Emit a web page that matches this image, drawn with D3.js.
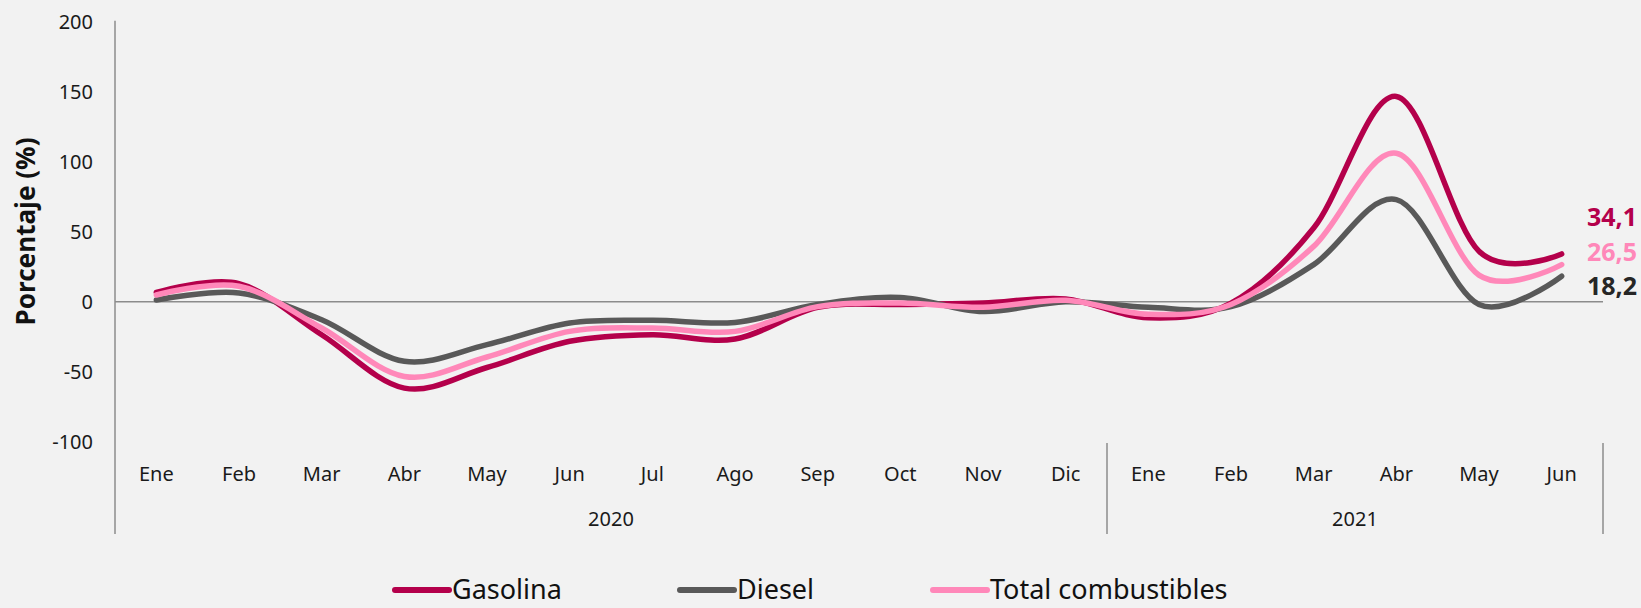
<!DOCTYPE html>
<html>
<head>
<meta charset="utf-8">
<script src="https://cdn.jsdelivr.net/npm/d3@7"></script>
<style>
html,body{margin:0;padding:0;background:#F2F2F2;overflow:hidden;}
svg{display:block;}
text{font-family:"Noto Sans","Open Sans",sans-serif;}
</style>
</head>
<body>
<svg id="chart" width="1641" height="608"></svg>
<script>
const months = ["Ene","Feb","Mar","Abr","May","Jun","Jul","Ago","Sep","Oct","Nov","Dic","Ene","Feb","Mar","Abr","May","Jun"];
const years = [{label:"2020", from:0, to:11},{label:"2021", from:12, to:17}];
const gasolina = [6.6, 12.9, -23.6, -61.7, -47, -28.3, -23.6, -26.7, -4, -2, -1, 2, -11.5, -1, 52.6, 146.6, 36, 34.1];
const diesel   = [1.2, 6.2, -12.9, -42.6, -30.7, -15.2, -13.3, -14.8, -2, 3, -7, 0, -4, -3.5, 26.5, 72.9, -2, 18.2];
const total    = [4.8, 11, -18.8, -53.4, -39.5, -21.2, -18.8, -21.2, -3.5, -1, -4, 1, -9, -2, 39.5, 106, 19, 26.5];
const yTicks = [-100, -50, 0, 50, 100, 150, 200];
const seriesNames = ["Gasolina","Diesel","Total combustibles"];
const endLabels = ["34,1","26,5","18,2"];

const colors = {Gasolina:"#B4004B", Diesel:"#595959", "Total combustibles":"#FF88B9"};
const labelColors = ["#B4004B","#FF88B9","#262626"];

const svg = d3.select("#chart");
const L = 115, R = 1603, T = 21.7, B = 441.7;

const x = d3.scaleBand().domain(d3.range(months.length)).range([L, R]);
const xc = i => x(i) + x.bandwidth()/2;
const y = d3.scaleLinear().domain([-100, 200]).range([B, T]);

const axisColor = "#8C8C8C";

svg.append("line").attr("x1",L).attr("x2",L).attr("y1",T-1).attr("y2",534)
  .attr("stroke",axisColor).attr("stroke-width",1.5);
svg.append("line").attr("x1",L).attr("x2",R).attr("y1",y(0)).attr("y2",y(0))
  .attr("stroke",axisColor).attr("stroke-width",1.5);
[12, 18].forEach(i=>{
  const xx = i<18 ? x(i) : R;
  svg.append("line").attr("x1",xx).attr("x2",xx).attr("y1",443).attr("y2",534)
    .attr("stroke",axisColor).attr("stroke-width",1.5);
});

svg.append("g").selectAll("text").data(yTicks).join("text")
  .attr("x",93).attr("y",d=>y(d)).attr("dy","0.35em")
  .attr("text-anchor","end").attr("font-size",20).attr("fill","#1a1a1a")
  .text(d=>d);

svg.append("text").attr("transform","translate(26,231.5) rotate(-90)")
  .attr("text-anchor","middle").attr("dy","0.35em")
  .attr("font-size",26).attr("font-weight","bold").attr("fill","#111")
  .attr("textLength",188).attr("lengthAdjust","spacingAndGlyphs")
  .text("Porcentaje (%)");

svg.append("g").selectAll("text").data(months).join("text")
  .attr("x",(d,i)=>xc(i)).attr("y",474).attr("dy","0.35em")
  .attr("text-anchor","middle").attr("font-size",20).attr("fill","#1a1a1a")
  .text(d=>d);

svg.append("g").selectAll("text").data(years).join("text")
  .attr("x",d=>(x(d.from) + (d.to<17 ? x(d.to)+x.bandwidth() : R))/2)
  .attr("y",519).attr("dy","0.35em")
  .attr("text-anchor","middle").attr("font-size",20).attr("fill","#1a1a1a")
  .text(d=>d.label);

const line = d3.line().x((d,i)=>xc(i)).y(d=>y(d)).curve(d3.curveCatmullRom.alpha(0));
const data = [["Gasolina",gasolina],["Diesel",diesel],["Total combustibles",total]];
svg.append("g").selectAll("path").data(data).join("path")
  .attr("d",d=>line(d[1])).attr("fill","none")
  .attr("stroke",d=>colors[d[0]]).attr("stroke-width",5.5)
  .attr("stroke-linecap","round").attr("stroke-linejoin","round");

const endY = [217, 252, 286];
svg.append("g").selectAll("text").data(endLabels).join("text")
  .attr("x",1587).attr("y",(d,i)=>endY[i]).attr("dy","0.35em")
  .attr("font-size",25).attr("font-weight","bold")
  .attr("fill",(d,i)=>labelColors[i]).text(d=>d);

const legX = [395, 680, 933];
const lg = svg.append("g").selectAll("g").data(seriesNames).join("g")
  .attr("transform",(d,i)=>`translate(${legX[i]},590)`);
lg.append("line").attr("x1",0).attr("x2",54).attr("y1",0).attr("y2",0)
  .attr("stroke",d=>colors[d]).attr("stroke-width",6).attr("stroke-linecap","round");
lg.append("text").attr("x",57).attr("y",0).attr("dy","0.33em")
  .attr("font-size",27).attr("fill","#111").text(d=>d);
</script>
</body>
</html>
